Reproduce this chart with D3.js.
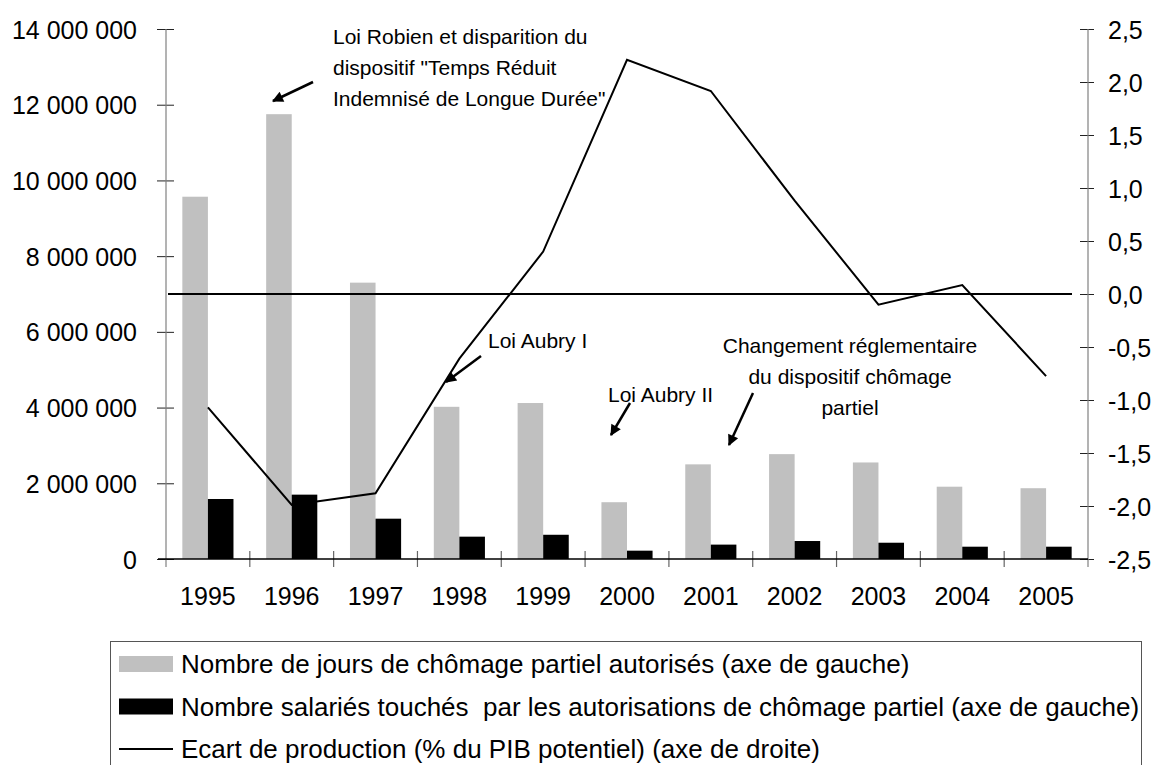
<!DOCTYPE html>
<html>
<head>
<meta charset="utf-8">
<script src="https://cdn.jsdelivr.net/npm/d3@7"></script>
<style>
  html, body { margin: 0; padding: 0; background: #fff; }
  svg { display: block; font-family: "Liberation Sans", Arial, sans-serif; }
</style>
</head>
<body>
<svg id="chart" width="1155" height="765"></svg>
<script>
"use strict"

//categories and series
const years = ["1995", "1996", "1997", "1998", "1999", "2000", "2001", "2002", "2003", "2004", "2005"];
const joursAutorises = [9570000, 11750000, 7300000, 4020000, 4120000, 1500000, 2500000, 2770000, 2550000, 1910000, 1870000];
const salariesTouches = [1585000, 1700000, 1065000, 590000, 640000, 220000, 380000, 475000, 430000, 325000, 325000];
const ecartProduction = [-1.07, -1.99, -1.88, -0.61, 0.40, 2.21, 1.915, 0.88, -0.10, 0.085, -0.775];

//tick values
const leftTicks = [0, 2000000, 4000000, 6000000, 8000000, 10000000, 12000000, 14000000];
const rightTicks = [-2.5, -2.0, -1.5, -1.0, -0.5, 0.0, 0.5, 1.0, 1.5, 2.0, 2.5];

//legend and annotation texts
const legendLabels = [
    "Nombre de jours de chômage partiel autorisés (axe de gauche)",
    "Nombre salariés touchés\u00a0 par les autorisations de chômage partiel (axe de gauche)",
    "Ecart de production (% du PIB potentiel) (axe de droite)"
];
const annotationTexts = [
    ["Loi Robien et disparition du", "dispositif \"Temps Réduit", "Indemnisé de Longue Durée\""],
    ["Loi Aubry I"],
    ["Loi Aubry II"],
    ["Changement réglementaire", "du dispositif chômage", "partiel"]
];

//where each annotation sits on the page (text anchor + arrow from/to)
const annotationLayout = [
    { x: 333, y: 44, anchor: "start", arrow: [313, 82, 273, 101] },
    { x: 488, y: 348, anchor: "start", arrow: [481, 356, 446, 382] },
    { x: 608, y: 402, anchor: "start", arrow: [630, 403, 611, 435] },
    { x: 850, y: 353, anchor: "middle", arrow: [753, 393, 729, 445] }
];

const svg = d3.select("#chart");

//plot area
const plot = { left: 166, right: 1088, top: 29, bottom: 559 };

const fr = d3.formatLocale({ decimal: ",", thousands: "\u00a0", grouping: [3], currency: ["", " €"], minus: "-" });

const x = d3.scaleBand().domain(years).range([plot.left, plot.right]).paddingInner(0).paddingOuter(0);
const yL = d3.scaleLinear().domain([0, 14000000]).range([plot.bottom, plot.top]);
const yR = d3.scaleLinear().domain([-2.5, 2.5]).range([plot.bottom, plot.top]);

const barW = x.bandwidth() * 0.305;
const cx = d => x(d) + x.bandwidth() / 2;

//--------bars--------
svg.append("g")
    .selectAll("rect")
    .data(years)
    .join("rect")
    .attr("x", d => cx(d) - barW)
    .attr("y", (d, i) => yL(joursAutorises[i]))
    .attr("width", barW)
    .attr("height", (d, i) => yL(0) - yL(joursAutorises[i]))
    .attr("fill", "#c0c0c0");

svg.append("g")
    .selectAll("rect")
    .data(years)
    .join("rect")
    .attr("x", d => cx(d))
    .attr("y", (d, i) => yL(salariesTouches[i]))
    .attr("width", barW)
    .attr("height", (d, i) => yL(0) - yL(salariesTouches[i]))
    .attr("fill", "#000");

//--------axes--------
//left axis
const leftAxis = svg.append("g")
    .attr("transform", `translate(${plot.left},0)`)
    .call(d3.axisLeft(yL).tickValues(leftTicks).tickFormat(fr.format(",.0f"))
        .tickSizeInner(9).tickSizeOuter(0).tickPadding(20));
leftAxis.select(".domain").remove();
leftAxis.selectAll(".tick line").attr("x1", 8).attr("stroke", "#222");
leftAxis.selectAll(".tick text").attr("font-size", 25).attr("fill", "#000")
    .attr("font-family", "Liberation Sans, Arial, sans-serif").attr("dy", "0.36em");

//right axis
const rightAxis = svg.append("g")
    .attr("transform", `translate(${plot.right},0)`)
    .call(d3.axisRight(yR).tickValues(rightTicks).tickFormat(fr.format(".1f"))
        .tickSizeInner(6).tickSizeOuter(0).tickPadding(14));
rightAxis.select(".domain").remove();
rightAxis.selectAll(".tick line").attr("x1", -8).attr("stroke", "#222");
rightAxis.selectAll(".tick text").attr("font-size", 25).attr("fill", "#000")
    .attr("font-family", "Liberation Sans, Arial, sans-serif").attr("dy", "0.36em");

//vertical axis lines (they run down to the category tick ends)
[plot.left, plot.right].forEach(px => {
    svg.append("line")
        .attr("x1", px).attr("x2", px)
        .attr("y1", plot.top).attr("y2", plot.bottom + 8)
        .attr("stroke", "#808080").attr("stroke-width", 1.2);
});

//category axis
const bounds = years.map(d => x(d)).concat([plot.right]);
svg.append("g")
    .selectAll("line")
    .data(bounds.slice(1, -1))
    .join("line")
    .attr("x1", d => d).attr("x2", d => d)
    .attr("y1", plot.bottom - 8).attr("y2", plot.bottom + 8)
    .attr("stroke", "#666").attr("stroke-width", 1.2);

svg.append("line")
    .attr("x1", plot.left - 8).attr("x2", plot.right)
    .attr("y1", yL(0)).attr("y2", yL(0))
    .attr("stroke", "#000").attr("stroke-width", 1.5);

svg.append("g")
    .selectAll("text")
    .data(years)
    .join("text")
    .attr("x", d => cx(d))
    .attr("y", plot.bottom + 46)
    .attr("text-anchor", "middle")
    .attr("font-size", 25)
    .text(d => d);

//zero reference of the right axis
svg.append("line")
    .attr("x1", plot.left + 2).attr("x2", plot.right - 16)
    .attr("y1", yR(0)).attr("y2", yR(0))
    .attr("stroke", "#000").attr("stroke-width", 2);

//--------output gap line--------
const line = d3.line()
    .x((d, i) => cx(years[i]))
    .y(d => yR(d));

svg.append("path")
    .datum(ecartProduction)
    .attr("d", line)
    .attr("fill", "none")
    .attr("stroke", "#000")
    .attr("stroke-width", 2)
    .attr("stroke-linejoin", "miter");

//--------annotations--------
svg.append("defs").append("marker")
    .attr("id", "arrowhead")
    .attr("viewBox", "0 0 10 10")
    .attr("refX", 9).attr("refY", 5)
    .attr("markerUnits", "userSpaceOnUse")
    .attr("markerWidth", 14).attr("markerHeight", 11)
    .attr("orient", "auto")
    .append("path")
    .attr("d", "M0,0 L10,5 L0,10 Z")
    .attr("fill", "#000");

annotationTexts.forEach((lines, k) => {
    const lay = annotationLayout[k];
    const t = svg.append("text")
        .attr("font-size", 21)
        .attr("text-anchor", lay.anchor);
    lines.forEach((s, j) => {
        t.append("tspan").attr("x", lay.x).attr("y", lay.y + j * 31).text(s);
    });
    svg.append("line")
        .attr("x1", lay.arrow[0]).attr("y1", lay.arrow[1])
        .attr("x2", lay.arrow[2]).attr("y2", lay.arrow[3])
        .attr("stroke", "#000").attr("stroke-width", 2.5)
        .attr("marker-end", "url(#arrowhead)");
});

//--------legend--------
const legend = svg.append("g");
legend.append("rect")
    .attr("x", 110.5).attr("y", 641.5)
    .attr("width", 1031).attr("height", 200)
    .attr("fill", "none").attr("stroke", "#555").attr("stroke-width", 1);

const rowY = [664, 706.5, 749];
legend.append("rect").attr("x", 119).attr("y", rowY[0] - 8).attr("width", 54).attr("height", 16).attr("fill", "#c0c0c0");
legend.append("rect").attr("x", 119).attr("y", rowY[1] - 8).attr("width", 54).attr("height", 16).attr("fill", "#000");
legend.append("line").attr("x1", 119).attr("x2", 173).attr("y1", rowY[2]).attr("y2", rowY[2])
    .attr("stroke", "#000").attr("stroke-width", 2);

legend.selectAll("text.lab")
    .data(legendLabels)
    .join("text")
    .attr("class", "lab")
    .attr("x", 181)
    .attr("y", (d, i) => rowY[i])
    .attr("dy", "0.36em")
    .attr("font-size", 26)
    .text(d => d);
</script>
</body>
</html>
